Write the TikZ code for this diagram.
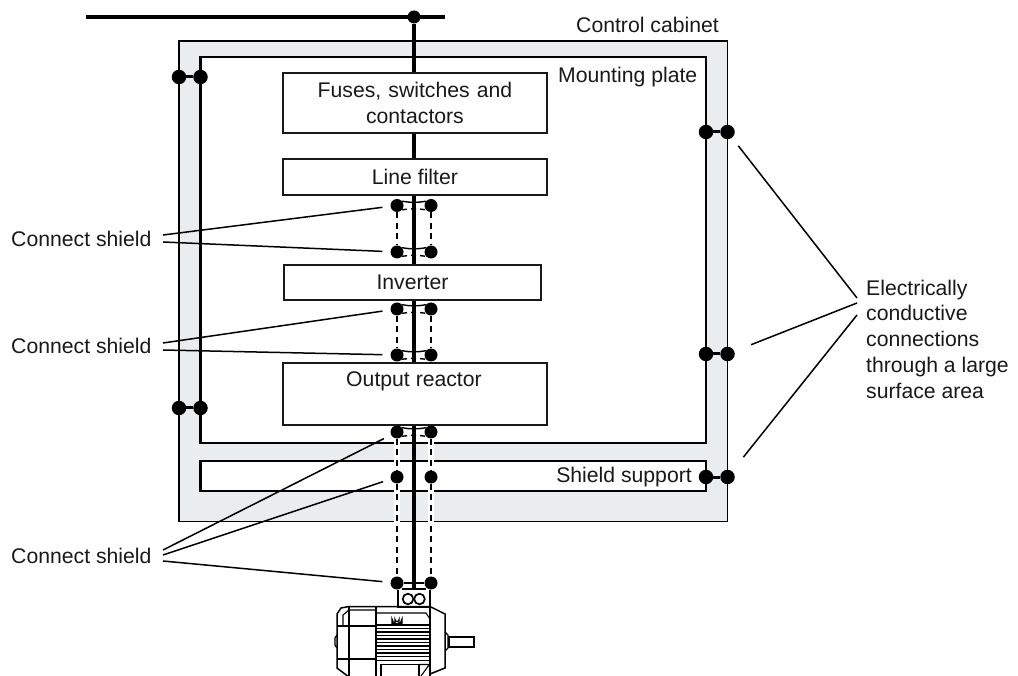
\documentclass[tikz,border=0pt]{standalone}
\usepackage{fontspec}
\setmainfont{Liberation Sans}
\definecolor{cabfill}{HTML}{E9EDF0}
\tikzset{
  x=1pt,y=-1pt,
  txt/.style={font=\fontsize{21.2}{25.8}\selectfont,inner sep=0pt,text=black!90},
  unit/.style={draw=black!90,line width=1.9pt,fill=white,inner sep=0pt,anchor=north west,font=\fontsize{21.2}{25.8}\selectfont,align=center,text=black!90},
  dot/.style={circle,fill=black,inner sep=0pt,minimum size=14.5pt},
  sdot/.style={circle,fill=black,inner sep=0pt,minimum size=13pt},
  wire/.style={line width=3.6pt},
  tie/.style={line width=3pt},
  leader/.style={line width=1.5pt,shorten >=8pt},
  braid/.style={line width=1.6pt,dash pattern=on 6pt off 4.5pt},
  halo/.style={line width=6pt,white},
  arcline/.style={line width=1.4pt},
  mot/.style={line width=1.1pt,draw=black}
}
\begin{document}
\begin{tikzpicture}
\useasboundingbox (0,0) rectangle (1018,676);
% cabinet and plate
\draw[fill=cabfill,line width=1.6pt] (179,41) rectangle (727.5,521.5);
\draw[fill=white,line width=2.6pt] (200.5,57) rectangle (706,443);
\draw[fill=white,line width=2.6pt] (200.5,461) rectangle (706,491);
% supply
\coordinate (busL) at (86,17);
\coordinate (busR) at (445,17);
\coordinate (motT) at (414,590);
\node[sdot] (busD) at (414,17) {};
\draw[wire] (busL) -- (busR);
% halo under shield braid
\draw[halo] (397,437) -- (397,580);
\draw[halo] (431,437) -- (431,580);
\draw[wire] (busD) -- (motT);
% units
\node[unit,minimum width=264pt,minimum height=60pt,text width=240pt] (fuses) at (282,72) {Fuses, switches and\\contactors};
\node[unit,minimum width=264pt,minimum height=36pt] (lfilt) at (282,158) {Line filter};
\node[unit,minimum width=257pt,minimum height=35pt] (inv) at (283,264) {Inverter};
\node[unit,minimum width=264pt,minimum height=62pt] (react) at (282,362) {};
\node[txt,anchor=center] (reactT) at (414,381) {Output reactor};
% texts
\node[txt,anchor=west] (tcab) at (576,25) {Control cabinet};
\node[txt,anchor=west] (tplate) at (558,77) {Mounting plate};
\node[txt,anchor=east] (tsup) at (692,477) {Shield support};
\node[txt,anchor=west] (cs1) at (11,239) {Connect shield};
\node[txt,anchor=west] (cs2) at (11,346) {Connect shield};
\node[txt,anchor=west] (cs3) at (11,556) {Connect shield};
\node[txt,anchor=north west,align=left] (tcon) at (866,279.5) {Electrically\\conductive\\connections\\through a large\\surface area};
% bonding dots
\foreach \n/\xa/\xb/\y in {la/179/200.5/77,lb/179/200.5/408,ra/706/727.5/132,rb/706/727.5/354,rc/706/727.5/477}{
  \node[dot] (\n1) at (\xa,\y) {};
  \node[dot] (\n2) at (\xb,\y) {};
  \draw[tie] (\n1) -- (\n2);
}
% shield dots
\foreach \n/\y in {a/205.5,b/252,c/309,d/355,e/432,f/477,g/583}{
  \node[sdot] (\n L) at (397,\y) {};
  \node[sdot] (\n R) at (431,\y) {};
}
\draw[braid] (aL) -- (bL);
\draw[braid] (aR) -- (bR);
\draw[braid] (cL) -- (dL);
\draw[braid] (cR) -- (dR);
\draw[braid] (eL) -- (fL);
\draw[braid] (eR) -- (fR);
\draw[braid] (fL) -- (gL);
\draw[braid] (fR) -- (gR);
\draw[tie,line width=2pt] (gL) -- (gR);
% shield rings
\foreach \n in {a,b,c,d,e}{
  \draw[arcline] (\n L.40) to[out=-10,in=-170] (\n R.140);
  \draw[arcline,dash pattern=on 5pt off 4pt] (\n L.-40) to[out=8,in=172] (\n R.-140);
}
% leaders
\coordinate (l1a) at (163,235);
\coordinate (l1b) at (163,242);
\coordinate (l2a) at (163,343);
\coordinate (l2b) at (163,350);
\coordinate (l3a) at (163,550);
\coordinate (l3b) at (163,555);
\coordinate (l3c) at (163,561);
\coordinate (r1) at (857,298);
\coordinate (r2) at (857,303);
\coordinate (r3) at (857,315);
\draw[leader] (l1a) -- (aL);
\draw[leader] (l1b) -- (bL);
\draw[leader] (l2a) -- (cL);
\draw[leader] (l2b) -- (dL);
\draw[leader] (l3a) -- (eL);
\draw[leader] (l3b) -- (fL);
\draw[leader] (l3c) -- (gL);
\draw[leader,shorten >=10pt] (r1) -- (ra2);
\draw[leader,shorten >=18pt] (r2) -- (rb2);
\draw[leader,shorten >=18pt] (r3) -- (rc2);
% motor
\draw[mot,fill=white,line width=1.4pt] (398,590) -- (398,607) -- (430,607) -- (430,590);
\draw[mot,line width=1.8pt] (402,589) -- (426,589);
\draw[mot,line width=1.7pt] (408,599) circle (5.3);
\draw[mot,line width=1.7pt] (419.5,599) circle (5.3);
\begin{scope}
\clip (330,600) rectangle (480,676);
\draw[mot,line width=1.5pt] (349,606.5) -- (430,606.5) -- (445,614) -- (445,668) -- (430,674);
\draw[mot,line width=1.5pt] (349,606.5) -- (341,608) -- (337,614) -- (337,668) -- (349,677);
\draw[mot] (343,626) -- (343,615) -- (349,610) -- (376,610);
\draw[mot] (349,606) -- (349,676) (376,606) -- (376,676) (430,607) -- (430,676);
\draw[mot] (376,613) -- (426,613) -- (430,619);
\draw[mot] (338,626) -- (376,626) (338,659) -- (376,659);
\foreach \y in {625,628.5,...,658}{
  \draw[mot,line width=1.2pt] (377,\y) -- (430,\y);
}
\draw[mot,line width=1.3pt] (376,660.5) -- (430,660.5);
\draw[mot,fill=white,line width=1.3pt] (381,664.5) rectangle (419,678);
\draw[mot] (419,664.5) -- (430,664.5) (421,676) -- (429,665);
\draw[mot,fill=white,line width=1.3pt] (392,623.5) -- (392,619) arc (180:0:5) -- (402,623.5) -- cycle;
\draw[mot,line width=1.2pt] (395,623) -- (395,619.5) arc (180:0:2) -- (399,623);
\draw[mot,line width=1.3pt] (337,635) -- (335,638) -- (335,645) -- (337,648);
\draw[mot,line width=1.3pt] (445,632) -- (448,635) -- (448,648) -- (445,651);
\draw[mot,fill=white,line width=1.3pt] (449,637) rectangle (474,647);
\end{scope}
\end{tikzpicture}
\end{document}
